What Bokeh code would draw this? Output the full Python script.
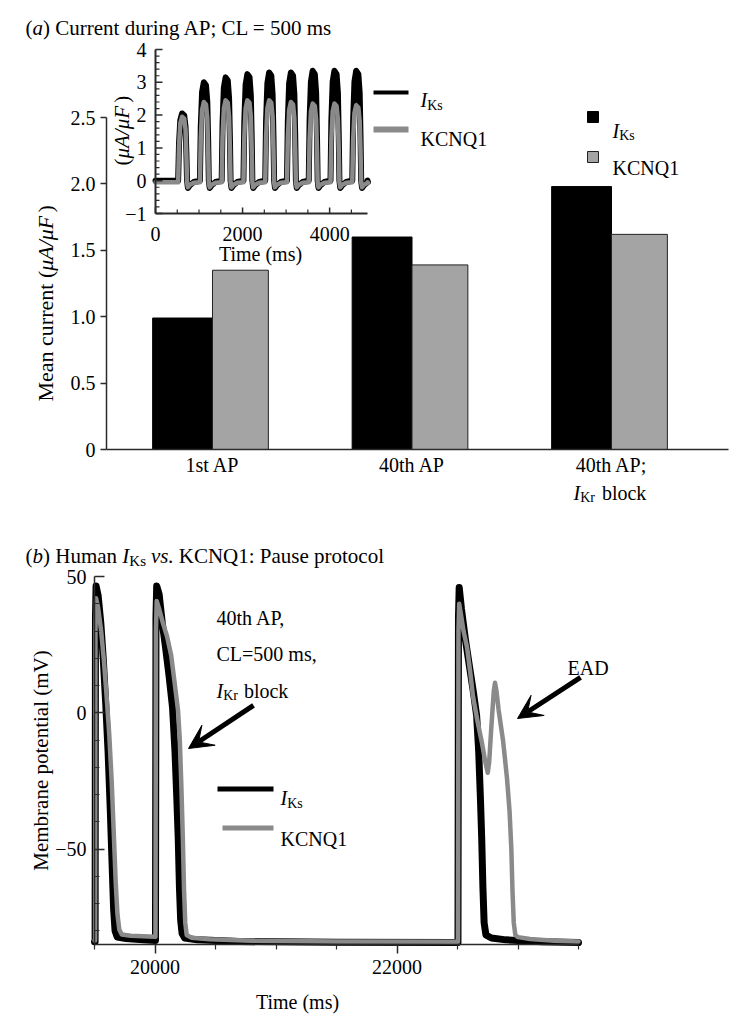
import math
from bokeh.plotting import figure
from bokeh.layouts import column
from bokeh.models import Range1d, FixedTicker, Label, BoxAnnotation, Arrow, VeeHead
from bokeh.core.properties import value
from bokeh.embed import file_html
from bokeh.resources import INLINE

FONT = "Liberation Serif"

# ---------------------------------------------------------------- data
# (a) bar chart: mean current (uA/uF)
categories = ["1st AP", "40th AP", "40th AP;"]
iks_mean = [0.99, 1.60, 1.98]
kcnq1_mean = [1.35, 1.39, 1.62]
bar_yticks = [0, 0.5, 1.0, 1.5, 2.0, 2.5]
bar_ytick_labels = ["0", "0.5", "1.0", "1.5", "2.0", "2.5"]

# (a) inset: current during pacing, CL = 500 ms
inset_onsets = [500, 1000, 1500, 2000, 2500, 3000, 3500, 4000, 4500]
inset_iks_peaks = [2.05, 3.0, 3.15, 3.25, 3.3, 3.3, 3.35, 3.35, 3.35]
inset_kcnq1_peaks = [1.95, 2.4, 2.45, 2.45, 2.45, 2.4, 2.35, 2.35, 2.3]
inset_shape_dt = [20, 40, 70, 110, 160, 190, 210, 225]
inset_shape_frac = [0.0, 0.55, 0.9, 1.0, 0.97, 0.8, 0.4, 0.0]
inset_tail_dt = [245, 290, 380]
inset_iks_tail = [-0.22, -0.14, -0.04]
inset_kcnq1_tail = [-0.2, -0.12, -0.06]
inset_iks_rest = 0.0
inset_kcnq1_rest = -0.05
inset_t_end = 4870
inset_xticks = [0, 2000, 4000]
inset_xtick_labels = ["0", "2000", "4000"]
inset_xminor = [500, 1000, 1500, 2500, 3000, 3500, 4500]
inset_yticks = [-1, 0, 1, 2, 3, 4]
inset_ytick_labels = ["\u22121", "0", "1", "2", "3", "4"]
inset_yminor = [-0.8, -0.6, -0.4, -0.2, 0.2, 0.4, 0.6, 0.8, 1.2, 1.4, 1.6, 1.8,
                2.2, 2.4, 2.6, 2.8, 3.2, 3.4, 3.6, 3.8]

# (b) membrane potential, pause protocol
ap_t_iks = [19500, 19505, 19508, 19513, 19530, 19552, 19572, 19592, 19612, 19630, 19645, 19658,
            19670, 19688, 19760, 19900,
            20004, 20008, 20014, 20034, 20060, 20087, 20115, 20145, 20165, 20180, 20192, 20202,
            20212, 20224, 20245, 20350, 20700, 21500,
            22504, 22508, 22514, 22533, 22565, 22599, 22630, 22658, 22675, 22690, 22700, 22710,
            22720, 22735, 22780, 22900, 23200, 23500]
ap_v_iks = [-84.0, -84.0, 35, 46.5, 43, 33, 20, 4, -14, -35, -55, -72,
            -80, -82.3, -82.8, -83.3,
            -83.5, 35, 46.5, 43.5, 33, 24, 14, 2, -14, -31, -46, -64,
            -76, -81, -82.6, -83.3, -83.9, -84.2,
            -84.3, 35, 46, 38, 27, 17, 8, -1, -14, -32, -46, -64,
            -77, -81.5, -82.6, -83.3, -84.0, -84.3]
ap_t_kcnq1 = [19500, 19505, 19508, 19513, 19530, 19555, 19578, 19600, 19622, 19642, 19660, 19675,
              19690, 19705, 19725, 19800, 19950,
              20004, 20008, 20014, 20035, 20065, 20100, 20134, 20165, 20190, 20205, 20218, 20230,
              20240, 20250, 20262, 20300, 20450, 20800, 21500,
              22504, 22508, 22514, 22525, 22550, 22579, 22605, 22628, 22665, 22702, 22730, 22750,
              22762, 22780, 22800, 22810, 22822, 22840, 22876, 22909, 22930, 22945, 22955, 22965,
              22978, 23000, 23100, 23300, 23500]
ap_v_kcnq1 = [-83.5, -83.5, 30, 42, 38.5, 30, 19, 6, -8, -25, -45, -62,
              -74, -79.5, -81.3, -81.8, -82.1,
              -82.2, 30, 41, 38, 33, 28, 21, 10, 1, -10, -27, -46,
              -65, -77, -81.5, -82.5, -83.1, -83.6, -83.9,
              -84.0, 30, 40, 37, 30, 24, 15, 6, -3, -11, -18, -22,
              -18, -5, 8, 11, 8, 1, -10, -24, -36, -50, -66, -77,
              -81.5, -82.3, -83.0, -83.6, -83.9]
ap_x_extent = (19500, 23500)
ap_y_extent = (-85, 50)
ap_xticks = [20000, 22000]
ap_xminor = [19500, 20500, 21000, 21500, 22500, 23000, 23500]
ap_yticks = [-50, 0, 50]
ap_ytick_labels = ["\u221250", "0", "50"]
ap_yminor = [-80, -70, -60, -40, -30, -20, -10, 10, 20, 30, 40]
# annotation arrows (tail / tip, data units of panel b)
arrow_ikr_tail, arrow_ikr_tip = (20814, 2.7), (20277, -13.1)
arrow_ead_tail, arrow_ead_tip = (23517, 13.0), (22996, -2.1)

# ---------------------------------------------------------------- layout (page px)
W = 756
TOP_H, BOT_H = 536, 480
B_TOP = TOP_H
A_L, A_R, A_B = 106, 728, 449                   # panel a axes (left, right, baseline)
A_Y25 = 117                                     # pixel row of 2.5
A_C1, A_C3 = 212, 611                           # pixel columns of 1st / 3rd group
IN_L, IN_R, IN_T, IN_B = 155, 367, 49, 213      # inset axes box
B_L, B_R, B_T, B_B = 94, 578, 576, 944          # panel b axes box (page px)

GRAY_BAR = "#a4a4a4"
GRAY_LINE = "#8a8a8a"
AX = "#2a2a2a"

REG = {' ': .25, '(': .333, ')': .333, ',': .25, '.': .25, ';': .278, ':': .278, '=': .564,
       '/': .278, '\u2212': .564, '\u03bc': .576,
       'A': .722, 'B': .667, 'C': .667, 'D': .722, 'E': .611, 'F': .556, 'H': .722, 'I': .333,
       'K': .722, 'L': .611, 'M': .889, 'N': .722, 'P': .556, 'Q': .722, 'T': .611, 'V': .722,
       'a': .444, 'b': .5, 'c': .444, 'd': .5, 'e': .444, 'g': .5, 'h': .5, 'i': .278, 'k': .5,
       'l': .278, 'm': .778, 'n': .5, 'o': .5, 'p': .5, 'r': .333, 's': .389, 't': .278, 'u': .5,
       'v': .5}
ITA = {'a': .5, 'b': .5, 'I': .333, 'v': .444, 's': .389, '.': .25, '\u03bc': .576, 'A': .611,
       'F': .611, '/': .278, ' ': .25}


def tw(s, size, italic=False):
    tab = ITA if italic else REG
    return sum(tab.get(c, REG.get(c, 0.5)) for c in s) * size


def label(p, x, y, txt, size=20, italic=False, align="left", baseline="alphabetic", angle=0.0):
    p.add_layout(Label(x=x, y=y, x_units="canvas", y_units="canvas", text=txt, angle=angle,
                       text_font=FONT, text_font_size=f"{size}px",
                       text_font_style="italic" if italic else "normal",
                       text_align=align, text_baseline=baseline, text_color="black"))


def rich(p, x, y, pieces, angle=0.0):
    cur = 0.0
    for pc in pieces:
        if isinstance(pc, (int, float)):
            cur += pc
            continue
        txt, size, italic, dy = pc
        if angle == 0:
            label(p, x + cur, y + dy, txt, size, italic)
        else:
            label(p, x + dy, y - cur, txt, size, italic, angle=angle)
        cur += tw(txt, size, italic)


def box(p, l, r, t, b, fill, line=None):
    p.add_layout(BoxAnnotation(left=l, right=r, top=t, bottom=b, left_units="canvas",
                               right_units="canvas", top_units="canvas", bottom_units="canvas",
                               fill_color=fill, fill_alpha=1.0, line_color=line,
                               line_width=1, line_alpha=1.0 if line else 0.0))


def style_axis(ax):
    ax.axis_line_color = AX
    ax.axis_line_width = 1.5
    ax.major_tick_line_color = AX
    ax.minor_tick_line_color = AX
    ax.major_tick_line_width = 1.5
    ax.minor_tick_line_width = 1.2
    ax.major_label_text_font = FONT
    ax.major_label_text_font_size = "20px"
    ax.major_label_text_color = "black"


def bare_figure(h, xr, yr):
    p = figure(width=W, height=h, output_backend="svg", toolbar_location=None, title=None,
               x_range=xr, y_range=yr, min_border=0, min_border_left=0, min_border_right=0,
               min_border_top=0, min_border_bottom=0)
    p.outline_line_color = None
    p.grid.visible = False
    p.background_fill_color = "white"
    p.border_fill_color = "white"
    return p


def lin_range(px0, v0, px1, v1, size):
    """data range whose ends fall on canvas pixels 0 and size (x direction)."""
    k = (px1 - px0) / (v1 - v0)
    return Range1d(v0 - px0 / k, v0 + (size - px0) / k)


def lin_range_y(py0, v0, py1, v1, size):
    """same for the y direction (canvas rows grow downwards)."""
    k = (py0 - py1) / (v1 - v0)
    return Range1d(v0 - (size - py0) / k, v0 + py0 / k)


# ---------------------------------------------------------------- panel (a)
xr1 = lin_range(A_C1, 1, A_C3, 3, W)
yr1 = lin_range_y(A_B, 0, A_Y25, 2.5, TOP_H)
p1 = bare_figure(TOP_H, xr1, yr1)
kx1 = (A_C3 - A_C1) / 2.0
x_at = lambda px: 1 + (px - A_C1) / kx1

p1.extra_x_ranges = {"ix": lin_range(IN_L, 0, IN_R, inset_t_end, W)}
p1.extra_y_ranges = {"iy": lin_range_y(IN_B, -1, IN_T, 4, TOP_H)}

pos = [1, 2, 3]
p1.vbar(x=[c - 0.15 for c in pos], top=iks_mean, width=0.30, bottom=0,
        fill_color="black", line_color="black", line_width=1)
p1.vbar(x=[c + 0.14 for c in pos], top=kcnq1_mean, width=0.28, bottom=0,
        fill_color=GRAY_BAR, line_color="#222222", line_width=1)

xa = p1.xaxis[0]
style_axis(xa)
xa.fixed_location = 0
xa.bounds = (x_at(A_L), x_at(A_R))
xa.ticker = FixedTicker(ticks=pos)
xa.major_label_overrides = {c: lab for c, lab in zip(pos, categories)}
xa.major_tick_out = 0
xa.major_tick_in = 0
xa.minor_tick_out = 0
xa.major_label_standoff = 4

ya = p1.yaxis[0]
style_axis(ya)
ya.fixed_location = x_at(A_L)
ya.bounds = (0, 2.5)
ya.ticker = FixedTicker(ticks=bar_yticks)
ya.major_label_overrides = {v: s for v, s in zip(bar_yticks, bar_ytick_labels)}
ya.major_tick_out = 6
ya.major_tick_in = 0
ya.minor_tick_out = 0
ya.major_label_standoff = 5

# second line of the third category label
rich(p1, 573, 492, [("I", 20, True, 0), ("Kr", 14, False, 5), 7, ("block", 20, False, 0)])
# y-axis label
rich(p1, 45, 401, [("Mean current (", 22, False, 0), ("\u03bcA/\u03bcF", 22, True, 0),
                   (")", 22, False, 0)], angle=math.pi / 2)
# title
rich(p1, 25, 27, [("(", 21, False, 0), ("a", 21, True, 0),
                  (") Current during AP; CL = 500 ms", 21, False, 0)])
# bar legend
box(p1, 587, 598, 111, 122, "black", "black")
box(p1, 587, 598, 151, 162, GRAY_BAR, "#222222")
rich(p1, 612, 130, [("I", 20, True, 0), ("Ks", 14, False, 5)])
label(p1, 612, 167, "KCNQ1")


# ---- inset traces
def build_trace(peaks, tail, rest):
    t, v = [0], [rest]
    for on, pk in zip(inset_onsets, peaks):
        for dt, fr in zip(inset_shape_dt, inset_shape_frac):
            t.append(on + dt)
            v.append(rest + (pk - rest) * fr)
        for dt, tv in zip(inset_tail_dt, tail):
            t.append(on + dt)
            v.append(tv)
    t.append(inset_t_end)
    v.append(rest)
    return t, v


ti, vi = build_trace(inset_iks_peaks, inset_iks_tail, inset_iks_rest)
tk, vk = build_trace(inset_kcnq1_peaks, inset_kcnq1_tail, inset_kcnq1_rest)
IR = dict(x_range_name="ix", y_range_name="iy")
p1.line(ti, vi, line_color="black", line_width=6, line_cap="round", line_join="round", **IR)
p1.line(tk, vk, line_color=GRAY_LINE, line_width=4.5, line_cap="round", line_join="round", **IR)

# inset axes
p1.segment(x0=[0, 0], y0=[-1, -1], x1=[inset_t_end, 0], y1=[-1, 4], line_color=AX,
           line_width=2, **IR)
p1.ray(x=[0] * len(inset_yticks), y=inset_yticks, length=7, length_units="screen", angle=0,
       line_color=AX, line_width=1.5, **IR)
p1.ray(x=[0] * len(inset_yminor), y=inset_yminor, length=4, length_units="screen", angle=0,
       line_color=AX, line_width=1.2, **IR)
p1.ray(x=inset_xticks, y=[-1] * len(inset_xticks), length=6, length_units="screen",
       angle=math.pi / 2, line_color=AX, line_width=1.5, **IR)
p1.ray(x=inset_xminor, y=[-1] * len(inset_xminor), length=4, length_units="screen",
       angle=math.pi / 2, line_color=AX, line_width=1.2, **IR)
p1.text(x=[0] * len(inset_yticks), y=inset_yticks, text=inset_ytick_labels, x_offset=-9,
        text_align="right", text_baseline="middle", text_font=value(FONT),
        text_font_size=value("20px"), text_color="black", **IR)
p1.text(x=inset_xticks, y=[-1] * len(inset_xticks), text=inset_xtick_labels, y_offset=20,
        text_align="center", text_baseline="alphabetic", text_font=value(FONT),
        text_font_size=value("20px"), text_color="black", **IR)
label(p1, 260, 253, "Time (ms)", align="center")
rich(p1, 121, 165, [("(", 21, False, 0), ("\u03bcA/\u03bcF", 21, True, 0),
                    (")", 21, False, 0)], angle=math.pi / 2)
# inset legend
box(p1, 373, 408, 90, 94, "black")
box(p1, 373, 408, 126, 132, GRAY_LINE)
rich(p1, 420, 99, [("I", 20, True, 0), ("Ks", 14, False, 6)])
label(p1, 420, 138, "KCNQ1")

# ---------------------------------------------------------------- panel (b)
xr2 = lin_range(B_L, ap_x_extent[0], B_R, ap_x_extent[1], W)
yr2 = lin_range_y(B_B - B_TOP, ap_y_extent[0], B_T - B_TOP, ap_y_extent[1], BOT_H)
p2 = bare_figure(BOT_H, xr2, yr2)

p2.line(ap_t_iks, ap_v_iks, line_color="black", line_width=7, line_cap="round",
        line_join="round")
p2.line(ap_t_kcnq1, ap_v_kcnq1, line_color=GRAY_LINE, line_width=4.5, line_cap="round",
        line_join="round")

bx = p2.xaxis[0]
style_axis(bx)
bx.fixed_location = ap_y_extent[0]
bx.bounds = ap_x_extent
bx.ticker = FixedTicker(ticks=ap_xticks, minor_ticks=ap_xminor)
bx.major_label_overrides = {v: str(v) for v in ap_xticks}
bx.major_tick_out = 9
bx.major_tick_in = 0
bx.minor_tick_out = 5
bx.minor_tick_in = 0
bx.major_label_standoff = 6

by = p2.yaxis[0]
style_axis(by)
by.fixed_location = ap_x_extent[0]
by.bounds = ap_y_extent
by.ticker = FixedTicker(ticks=ap_yticks, minor_ticks=ap_yminor)
by.major_label_overrides = {v: s for v, s in zip(ap_yticks, ap_ytick_labels)}
by.major_tick_out = 0
by.major_tick_in = 10
by.minor_tick_out = 0
by.minor_tick_in = 5
by.major_label_standoff = 8

label(p2, 40, 760 - B_TOP, "Membrane potential (mV)", size=21, align="center",
      baseline="middle", angle=math.pi / 2)
label(p2, 297, 1001 - B_TOP, "Time (ms)", align="center")

rich(p2, 25, 555 - B_TOP, [("(", 21, False, 0), ("b", 21, True, 0), (") Human ", 21, False, 0),
                           ("I", 21, True, 0), ("Ks", 15, False, 5), 5, ("vs.", 21, True, 0), 5,
                           ("KCNQ1: Pause protocol", 21, False, 0)])
label(p2, 216, 617 - B_TOP, "40th AP,")
label(p2, 216, 653 - B_TOP, "CL=500 ms,")
rich(p2, 216, 690 - B_TOP, [("I", 20, True, 0), ("Kr", 14, False, 5), 6, ("block", 20, False, 0)])
label(p2, 567, 667 - B_TOP, "EAD")

for tail, tip in ((arrow_ikr_tail, arrow_ikr_tip), (arrow_ead_tail, arrow_ead_tip)):
    p2.add_layout(Arrow(end=VeeHead(size=24, fill_color="black", line_color="black", line_width=1),
                        x_start=tail[0], y_start=tail[1], x_end=tip[0], y_end=tip[1],
                        line_color="black", line_width=5))

# legend of panel b
box(p2, 217, 273, 786 - B_TOP, 791 - B_TOP, "black")
box(p2, 222, 273, 825 - B_TOP, 830 - B_TOP, GRAY_LINE)
rich(p2, 280, 797 - B_TOP, [("I", 20, True, 0), ("Ks", 14, False, 6)])
label(p2, 280, 838 - B_TOP, "KCNQ1")

layout = column(p1, p2, spacing=0)
open("out.html", "w").write(file_html(layout, INLINE))
